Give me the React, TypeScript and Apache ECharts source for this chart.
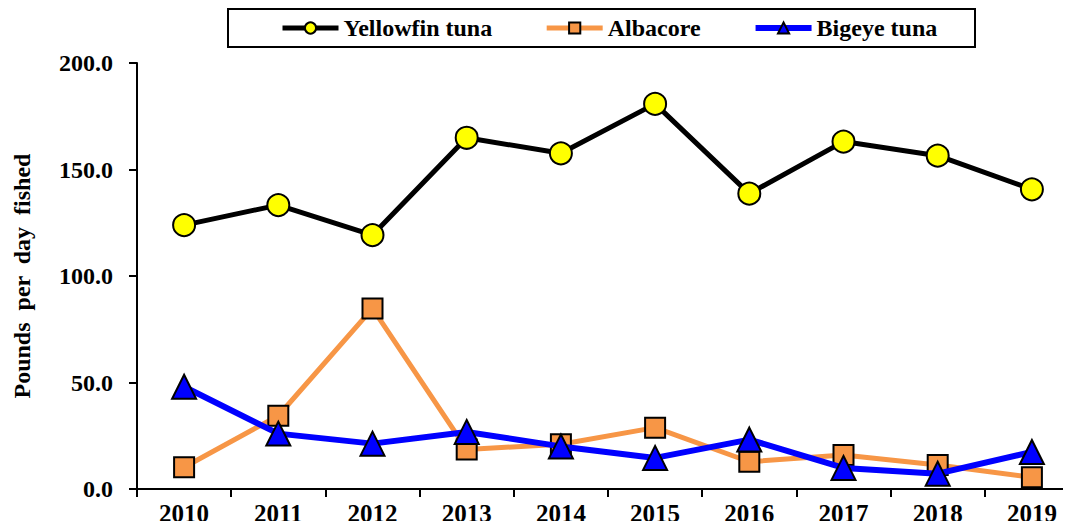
import React, { useEffect, useRef } from "react";
import * as echarts from "echarts";

const years = ["2010", "2011", "2012", "2013", "2014", "2015", "2016", "2017", "2018", "2019"];
const yellowfin = [123.9, 133.3, 119.2, 164.9, 157.6, 180.8, 138.7, 163.1, 156.5, 140.7];
const albacore = [10.2, 34.4, 84.8, 18.6, 21.0, 28.8, 12.8, 16.0, 11.3, 5.5];
const bigeye = [48.0, 26.0, 21.3, 26.8, 20.0, 14.6, 23.2, 9.9, 7.2, 17.4];

const FONT = "Liberation Serif, DejaVu Serif, serif";

export default function App() {
  const ref = useRef<HTMLDivElement>(null);
  useEffect(() => {
    if (!ref.current) return;
    const chart = echarts.init(ref.current, null, { renderer: "svg" });
    chart.setOption({
      animation: false,
      backgroundColor: "#ffffff",
      textStyle: { fontFamily: FONT },
      graphic: [
        {
          type: "rect",
          shape: { x: 228, y: 9, width: 747, height: 38 },
          style: { fill: "none", stroke: "#000", lineWidth: 2 },
          z: 0,
        },
      ],
      legend: {
        left: 280,
        top: 16,
        padding: 0,
        itemWidth: 56,
        itemHeight: 14,
        itemGap: 52,
        textStyle: { fontFamily: FONT, fontWeight: "bold", fontSize: 24, color: "#000" },
        data: [
          { name: "Yellowfin tuna", lineStyle: { width: 5 } },
          { name: "Albacore", lineStyle: { width: 5 } },
          { name: "Bigeye tuna", lineStyle: { width: 6 } },
        ],
      },
      grid: { left: 137, top: 63, right: -8, bottom: 40, containLabel: false, outerBoundsMode: "none" },
      xAxis: {
        type: "category",
        data: years,
        boundaryGap: true,
        axisLine: { lineStyle: { color: "#000", width: 2 } },
        axisTick: { show: true, length: 8, lineStyle: { color: "#000", width: 2 } },
        axisLabel: { margin: 12, fontFamily: FONT, fontWeight: "bold", fontSize: 25, color: "#000" },
        splitLine: { show: false },
      },
      yAxis: {
        type: "value",
        min: 0,
        max: 200,
        interval: 50,
        name: "Pounds  per  day  fished",
        nameLocation: "middle",
        nameGap: 115,
        nameRotate: 90,
        nameTextStyle: {
          fontFamily: FONT,
          fontWeight: "bold",
          fontSize: 24,
          color: "#000",
          verticalAlign: "middle",
        },
        axisLine: { show: true, lineStyle: { color: "#000", width: 2 } },
        axisTick: { show: true, length: 8, lineStyle: { color: "#000", width: 2 } },
        axisLabel: {
          margin: 24,
          fontFamily: FONT,
          fontWeight: "bold",
          fontSize: 24,
          color: "#000",
          formatter: (v: number) => v.toFixed(1),
        },
        splitLine: { show: false },
      },
      series: [
        {
          name: "Yellowfin tuna",
          type: "line",
          data: yellowfin,
          symbol: "circle",
          symbolSize: 22,
          lineStyle: { color: "#000", width: 5 },
          itemStyle: { color: "#FFFF00", borderColor: "#000", borderWidth: 2 },
          z: 3,
        },
        {
          name: "Albacore",
          type: "line",
          data: albacore,
          symbol: "rect",
          symbolSize: 20,
          lineStyle: { color: "#F79646", width: 5 },
          itemStyle: { color: "#F79646", borderColor: "#000", borderWidth: 2 },
          z: 3,
        },
        {
          name: "Bigeye tuna",
          type: "line",
          data: bigeye,
          symbol: "triangle",
          symbolSize: 24,
          lineStyle: { color: "#0000FF", width: 6 },
          itemStyle: { color: "#0000FF", borderColor: "#000", borderWidth: 2 },
          z: 4,
        },
      ],
    });
    return () => chart.dispose();
  }, []);
  return <div ref={ref} style={{ width: 1071, height: 529, margin: -8 }} />;
}
